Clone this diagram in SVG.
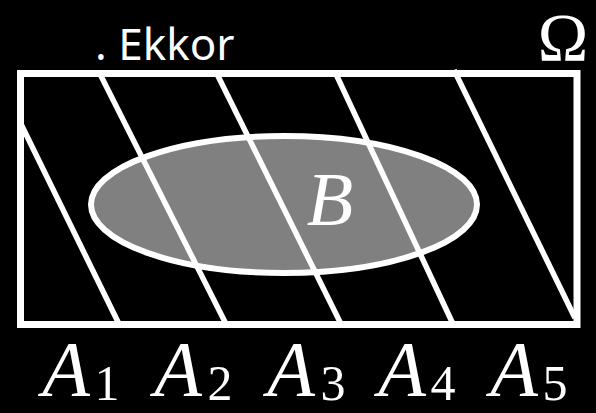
<svg xmlns="http://www.w3.org/2000/svg" width="596" height="413" viewBox="0 0 596 413">
<style>
.ln{stroke:#fff;stroke-width:5.5;fill:none;stroke-linecap:butt}
.m{font-family:"Liberation Serif",Tinos,"Times New Roman",Times,"DejaVu Serif","Noto Serif",FreeSerif,serif;fill:#fff}
.a{font-style:italic;font-size:78px;text-anchor:middle}
.s{font-size:50px;text-anchor:middle}
</style>
<rect width="596" height="413" fill="#000"/>
<g id="B">
<ellipse cx="284" cy="204.5" rx="193" ry="68.5" fill="#808080" stroke="#fff" stroke-width="6"/>
</g>
<g id="partition">
<line class="ln" x1="20" y1="122" x2="119" y2="324"/>
<line class="ln" x1="99" y1="72" x2="226" y2="324"/>
<line class="ln" x1="216" y1="72" x2="341" y2="324"/>
<line class="ln" x1="335" y1="72" x2="453" y2="324"/>
<line class="ln" x1="454" y1="70" x2="575" y2="318"/>
</g>
<g id="omega">
<rect x="20.5" y="73.5" width="556.5" height="251" fill="none" stroke="#fff" stroke-width="7"/>
<text class="m" x="563" y="60" font-size="68" text-anchor="middle">Ω</text>
</g>
<g id="B-label">
<text class="m" x="330" y="225" font-size="76" font-style="italic" text-anchor="middle">B</text>
</g>
<g id="labels">
<text class="m a" x="66" y="395">A</text><text class="m s" x="107" y="400">1</text>
<text class="m a" x="178" y="395">A</text><text class="m s" x="220" y="400">2</text>
<text class="m a" x="291" y="395">A</text><text class="m s" x="333" y="400">3</text>
<text class="m a" x="402" y="395">A</text><text class="m s" x="443" y="400">4</text>
<text class="m a" x="514" y="395">A</text><text class="m s" x="555" y="400">5</text>
</g>
<g id="caption">
<text x="95" y="60" font-family="'Noto Sans',sans-serif" font-size="44" fill="#fff">. Ekkor</text>
</g>
</svg>
